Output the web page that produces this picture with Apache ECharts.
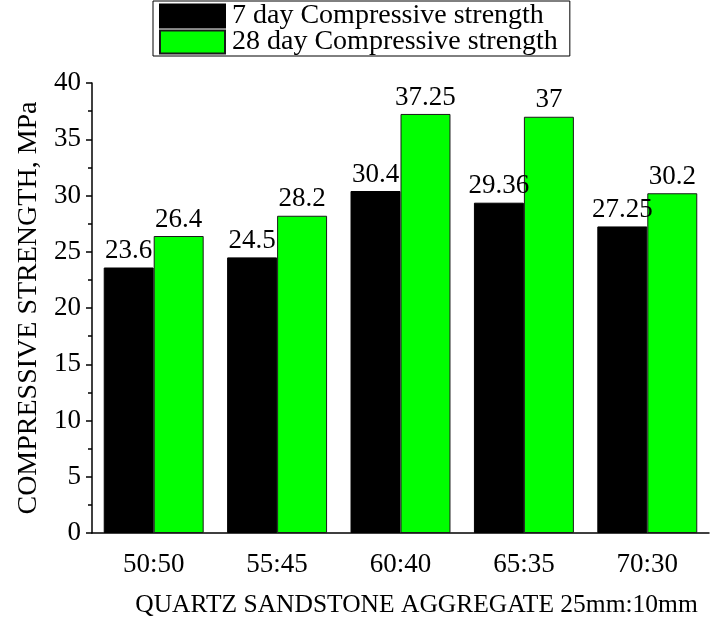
<!DOCTYPE html>
<html>
<head>
<meta charset="utf-8">
<script src="https://cdn.jsdelivr.net/npm/echarts@6/dist/echarts.min.js"></script>
<style>html,body{margin:0;padding:0;background:#fff}#c{width:715px;height:623px}</style>
</head>
<body>
<div id="c"></div>
<script>
const categories = ['50:50', '55:45', '60:40', '65:35', '70:30'];
const day7 = [23.6, 24.5, 30.4, 29.36, 27.25];
const day28 = [26.4, 28.2, 37.25, 37, 30.2];
const day7Labels = ['23.6', '24.5', '30.4', '29.36', '27.25'];
const day28Labels = ['26.4', '28.2', '37.25', '37', '30.2'];
const seriesNames = ['7 day Compressive strength', '28 day Compressive strength'];
const yTicks = [0, 5, 10, 15, 20, 25, 30, 35, 40];

const font = 'Liberation Serif';
const chart = echarts.init(document.getElementById('c'), null, {renderer: 'canvas'});
chart.setOption({
  animation: false,
  textStyle: {fontFamily: font, color: '#000'},
  grid: {left: 92, right: 6, top: 83, bottom: 86, containLabel: false},
  legend: {
    orient: 'vertical', left: 153, top: 1,
    padding: [1, 12, 0, 6],
    borderColor: '#000', borderWidth: 1,
    itemWidth: 65, itemHeight: 23, itemGap: -2,
    icon: 'rect',
    textStyle: {fontFamily: font, fontSize: 28, color: '#000', padding: [0, 0, 0, 2]},
    data: seriesNames
  },
  xAxis: [{
    type: 'category', data: categories,
    axisLine: {lineStyle: {color: '#000', width: 1.5}},
    axisTick: {alignWithLabel: true, length: 9, lineStyle: {color: '#000', width: 1.5}},
    axisLabel: {fontFamily: font, fontSize: 27, color: '#000', margin: 18},
    name: 'QUARTZ SANDSTONE AGGREGATE 25mm:10mm',
    nameLocation: 'middle', nameGap: 59,
    nameTextStyle: {fontFamily: font, fontSize: 25.5, color: '#000', padding: [0, 0, 0, 32]}
  }, {
    type: 'category', data: categories, position: 'bottom',
    axisLine: {show: false},
    axisTick: {length: 5, lineStyle: {color: '#000', width: 1.5}},
    axisLabel: {show: false}
  }],
  yAxis: {
    type: 'value', min: 0, max: 40, interval: 5,
    axisLine: {show: true, lineStyle: {color: '#000', width: 1.5}},
    axisTick: {show: true, length: 6, lineStyle: {color: '#000', width: 1.5}},
    minorTick: {show: true, splitNumber: 2, length: 4, lineStyle: {color: '#000', width: 1.5}},
    splitLine: {show: false},
    axisLabel: {fontFamily: font, fontSize: 27, color: '#000', margin: 11,
      formatter: v => yTicks.includes(v) ? String(v) : ''},
    name: 'COMPRESSIVE STRENGTH, MPa',
    nameLocation: 'middle', nameGap: 42, nameRotate: 90,
    nameTextStyle: {fontFamily: font, fontSize: 28, color: '#000'}
  },
  series: [{
    name: seriesNames[0], type: 'bar', data: day7,
    barGap: '0%', barCategoryGap: '19%',
    itemStyle: {color: '#000', borderColor: '#000', borderWidth: 1},
    label: {show: true, position: 'top', distance: 3, fontFamily: font, fontSize: 27, color: '#000',
      formatter: p => day7Labels[p.dataIndex]}
  }, {
    name: seriesNames[1], type: 'bar', data: day28,
    barGap: '0%', barCategoryGap: '19%',
    itemStyle: {color: '#00ff00', borderColor: '#1a1a1a', borderWidth: 1},
    label: {show: true, position: 'top', distance: 3, fontFamily: font, fontSize: 27, color: '#000',
      formatter: p => day28Labels[p.dataIndex]}
  }]
});
</script>
</body>
</html>
